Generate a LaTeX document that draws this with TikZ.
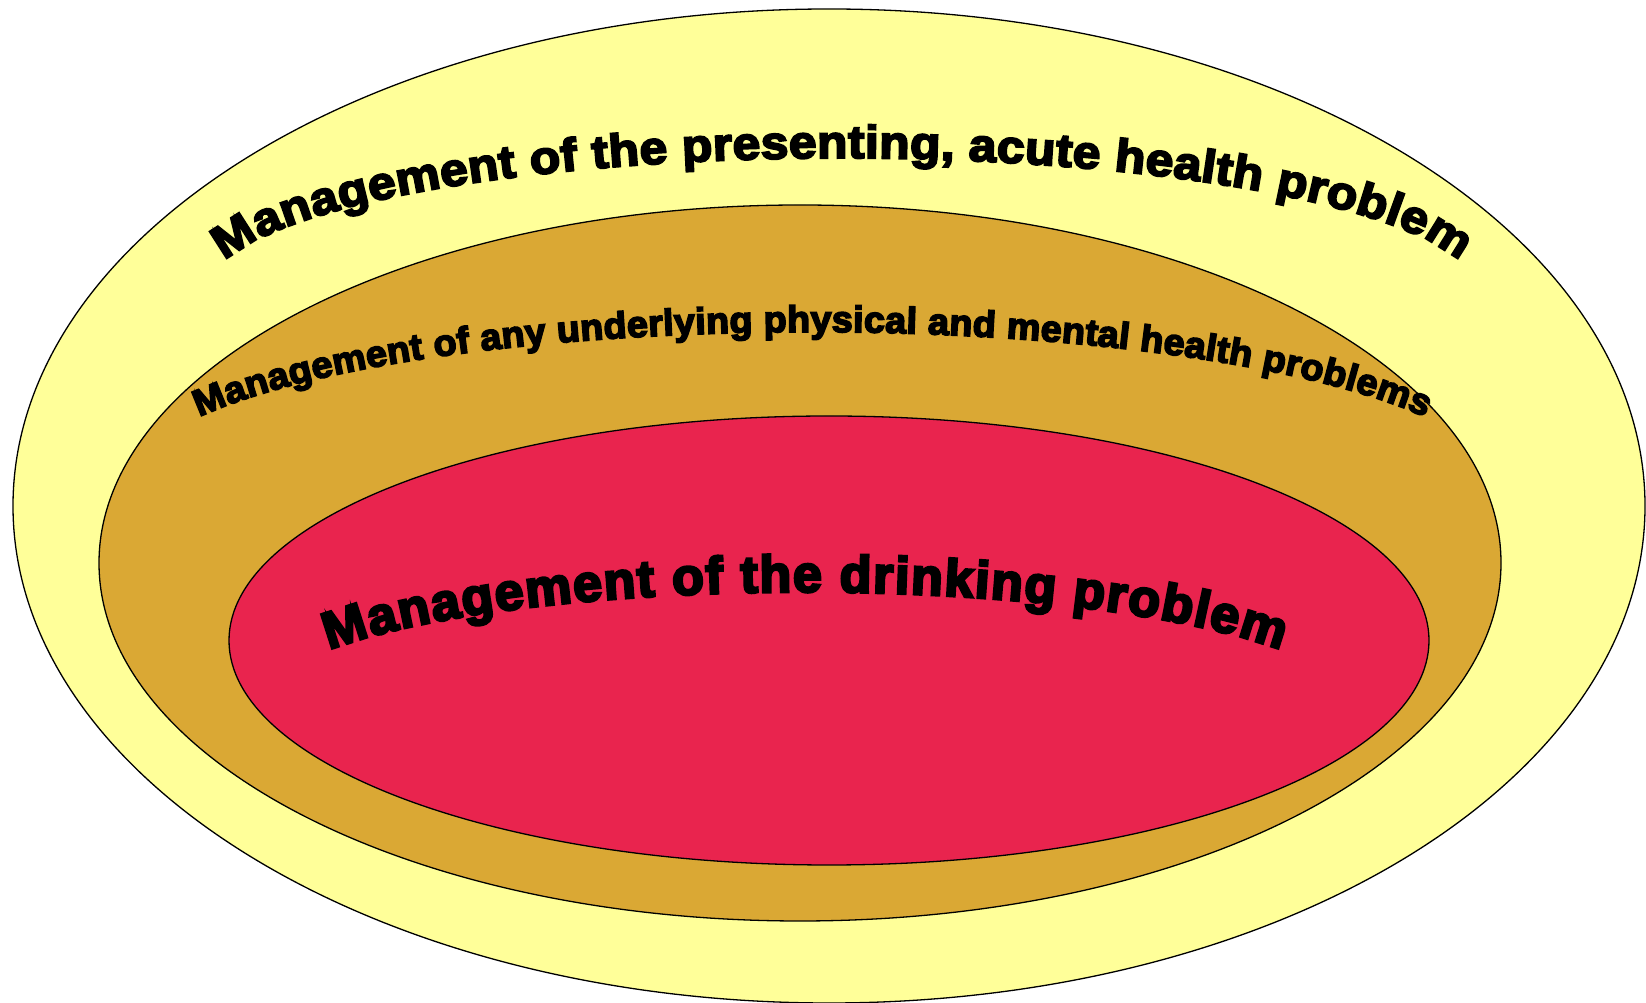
\documentclass[tikz,border=0pt]{standalone}
\usepackage{fontspec}
\usetikzlibrary{shapes.geometric,decorations.text}
\newfontfamily\heavyA{Liberation Sans}[FakeBold=4.5, FakeStretch=1.08]
\newfontfamily\heavyB{Liberation Sans}[FakeBold=4.5, FakeStretch=1.02]
\newfontfamily\heavyC{Liberation Sans}[FakeBold=5]
\definecolor{ringyellow}{RGB}{255,255,153}
\definecolor{ringgold}{RGB}{218,168,52}
\definecolor{ringred}{RGB}{233,36,78}
\tikzset{
  ring/.style={ellipse, draw=black, line width=1.3pt, inner sep=0pt},
  arctext/.style={decorate, decoration={text along path, text align=fit to path, #1}}
}
\begin{document}
\begin{tikzpicture}[x=1pt,y=1pt]
\useasboundingbox (0,0) rectangle (1646,1003);
\node[ring, fill=ringyellow, minimum width=1632, minimum height=994] (outer) at (829,497) {};
\node[ring, fill=ringgold, minimum width=1402, minimum height=716] (middle) at (800,440) {};
\node[ring, fill=ringred, minimum width=1200, minimum height=449] (inner) at (829,362.5) {};
\coordinate (oc) at (842,713);
\coordinate (mc) at (812,521);
\coordinate (ic) at (805,301);
\path[arctext={text={|\heavyA\bfseries\fontsize{46}{50}\selectfont|Management of the presenting{,} acute health problem}}]
  (oc) ++(167.5:632 and 132) arc[start angle=167.5, end angle=12.5, x radius=632, y radius=132];
\path[arctext={text={|\heavyB\bfseries\fontsize{37}{40}\selectfont|Management of any underlying physical and mental health problems}}]
  (mc) ++(154.3:680 and 150) arc[start angle=154.3, end angle=25.7, x radius=680, y radius=150];
\path[arctext={text={|\heavyC\bfseries\fontsize{52}{56}\selectfont|Management of the drinking problem}}]
  (ic) ++(151.8:540 and 110) arc[start angle=151.8, end angle=28.2, x radius=540, y radius=110];
\end{tikzpicture}
\end{document}
